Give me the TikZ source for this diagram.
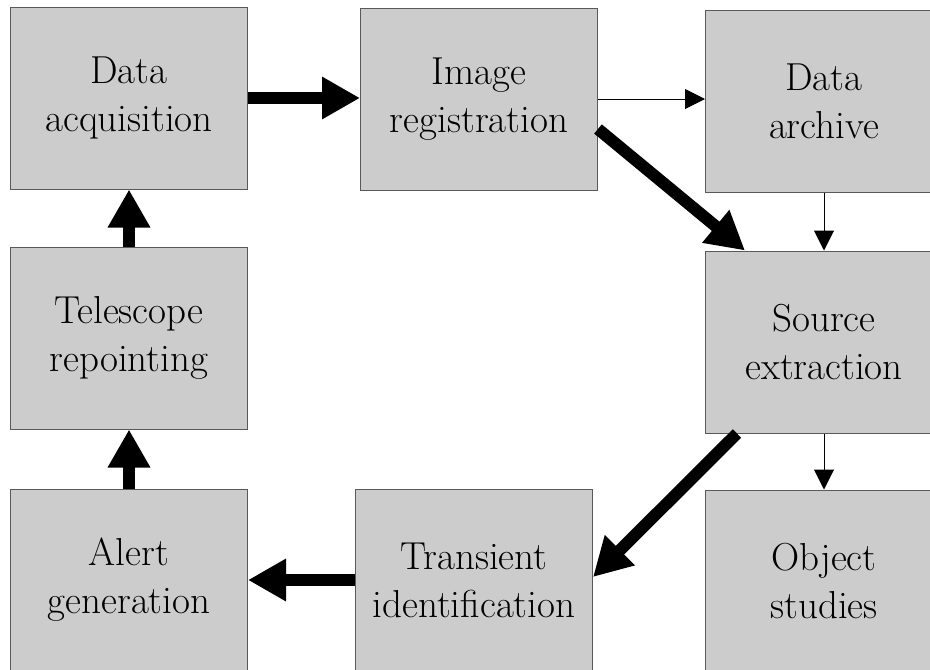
\documentclass[tikz,border=0pt]{standalone}
\usepackage{fontspec}
\usetikzlibrary{arrows.meta,calc,positioning}

\begin{document}
\begin{tikzpicture}[x=1pt,y=-1pt,
    stage/.style={draw=black!65,line width=1pt,fill=black!20,
        minimum width=237pt,minimum height=182pt,inner sep=0pt,
        align=center,font=\fontsize{39}{48}\selectfont},
    mainflow/.style={-{Triangle[length=38pt,width=40pt]},line width=12pt},
    sideflow/.style={-{Triangle[length=20pt,width=20pt]},line width=1pt}]
                \clip (0,0) rectangle (930,670);
                \fill [white] (0,0) rectangle (930,670);
                \coordinate (A) at (129,98);
                \coordinate (R) at (479,99);
                \coordinate (V) at (824,101);
                \coordinate (T) at (129,338);
                \coordinate (S) at (824,342);
                \coordinate (G) at (129,580);
                \coordinate (I) at (474,580);
                \coordinate (O) at (824,581);
                \node [stage] (acq) at (A) {Data\\acquisition};
                \node [stage] (reg) at (R) {Image\\registration};
                \node [stage] (arch) at (V) {Data\\archive};
                \node [stage] (repoint) at (T) {Telescope\\repointing};
                \node [stage] (extract) at (S) {Source\\extraction};
                \node [stage] (alert) at (G) {Alert\\generation};
                \node [stage] (trans) at (I) {Transient\\identification};
                \node [stage] (study) at (O) {Object\\studies};
                % main loop
                \draw [mainflow] (acq.east) -- (acq.east -| reg.west);
                \draw [mainflow] ([yshift=-30pt]reg.east) -- ([xshift=40pt]extract.north west);
                \draw [mainflow] ([xshift=32pt]extract.south west) -- ([yshift=3pt]trans.east);
                \draw [mainflow] (trans.west) -- (alert.east);
                \draw [mainflow] (alert.north) -- (repoint.south);
                \draw [mainflow] (repoint.north) -- (acq.south);
                % side branches
                \draw [sideflow] (reg.east) -- (reg.east -| arch.west);
                \draw [sideflow] (arch.south) -- (extract.north);
                \draw [sideflow] (extract.south) -- (study.north);
            \end{tikzpicture}
\end{document}
